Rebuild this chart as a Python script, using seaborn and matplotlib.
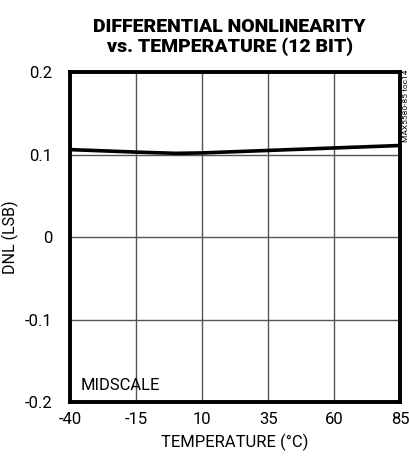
import matplotlib
matplotlib.use("Agg")
import matplotlib.pyplot as plt
import seaborn as sns
import pandas as pd

temps = [-40, -15, 0, 10, 35, 60, 85]
dnl = [0.106, 0.103, 0.1015, 0.102, 0.105, 0.108, 0.111]
xticks = [-40, -15, 10, 35, 60, 85]
yticks = [-0.2, -0.1, 0, 0.1, 0.2]
ylabels = ["-0.2", "-0.1", "0", "0.1", "0.2"]

sns.set_style("white")
plt.rcParams['font.family'] = ['Roboto', 'DejaVu Sans']
plt.rcParams['text.color'] = 'black'
plt.rcParams['axes.labelcolor'] = 'black'
plt.rcParams['xtick.color'] = 'black'
plt.rcParams['ytick.color'] = 'black'

df = pd.DataFrame({"temp": temps, "dnl": dnl})

fig = plt.figure(figsize=(4.1, 4.59), dpi=100)
ax = fig.add_axes([0.171, 0.124, 0.805, 0.719])
sns.lineplot(data=df, x="temp", y="dnl", ax=ax, color="black", linewidth=2.6)

ax.set_xlim(-40, 85)
ax.set_ylim(-0.2, 0.2)
ax.set_xticks(xticks)
ax.set_xticklabels([str(t) for t in xticks])
ax.set_yticks(yticks)
ax.set_yticklabels(ylabels)
ax.tick_params(length=0, labelsize=12, pad=13)
ax.tick_params(axis="x", pad=7)
ax.grid(True, color="#555555", linewidth=1)
for s in ax.spines.values():
    s.set_visible(True)
    s.set_color("black")
    s.set_linewidth(2.8)

ax.set_xlabel("TEMPERATURE (°C)", fontsize=12, labelpad=5)
ax.set_ylabel("DNL (LSB)", fontsize=11.5)
ax.yaxis.set_label_coords(-0.155, 0.5)
ax.text(-36, -0.185, "MIDSCALE", fontsize=12)

fig.text(0.56, 0.96, "DIFFERENTIAL NONLINEARITY\nvs. TEMPERATURE (12 BIT)",
         ha="center", va="top", fontsize=14, fontweight="black", linespacing=1.1)
fig.text(0.99, 0.848, "MAX5580-85 toc14", rotation=90, fontsize=6, ha="center", va="top")

fig.savefig("out.png", dpi=100)
